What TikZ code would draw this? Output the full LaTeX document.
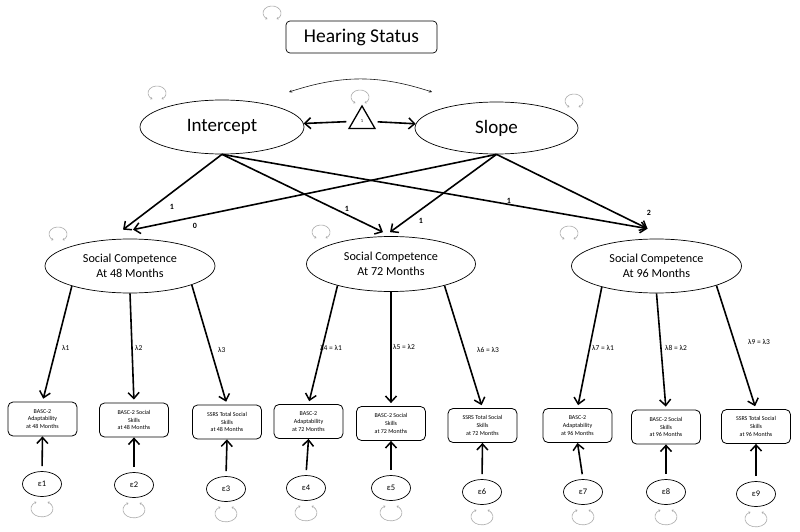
\documentclass[tikz,border=0pt]{standalone}
\usepackage{fontspec}
\setmainfont{Carlito}
\usetikzlibrary{arrows.meta,shapes.geometric,calc}
\newcommand\toploop[1]{\draw[vloop] ($(#1)+(4.5pt,-6.06pt)$) arc[start angle=-60,end angle=240,x radius=9pt,y radius=7pt];}
\newcommand\botloop[1]{\draw[vloop] ($(#1.south)+(-5.5pt,-5.1pt)$) arc[start angle=120,end angle=420,x radius=11pt,y radius=8pt];}
\begin{document}
\begin{tikzpicture}[x=1pt,y=-1pt,
 lat/.style={ellipse,draw,line width=0.7pt,inner sep=0pt,align=center},
 obs/.style={draw,rounded corners=5pt,line width=0.8pt,align=center,inner sep=0pt,minimum width=69pt,minimum height=34pt,font=\fontsize{6}{7.8}\selectfont},
 err/.style={ellipse,draw,line width=0.7pt,minimum width=39pt,minimum height=25pt,inner sep=0pt,font=\fontsize{8.5}{9}\selectfont},
 arr/.style={-{Straight Barb[length=6pt,width=11pt,line width=1.5pt]},line width=1.6pt},
 lam/.style={font=\fontsize{7.5}{8}\selectfont,anchor=west,inner sep=0pt},
 pl/.style={font=\bfseries\fontsize{8}{9}\selectfont,inner sep=0pt},
 vloop/.style={gray!65,line width=0.6pt,{Stealth[length=2pt,width=2.5pt]}-{Stealth[length=2pt,width=2.5pt]}},
]
\useasboundingbox[fill=white] (0,0) rectangle (800,532);

% top
\node[draw,rounded corners=4pt,line width=0.7pt,minimum width=151pt,minimum height=32pt,font=\fontsize{19.5}{21}\selectfont] (hs) at (361.5,37) {Hearing Status};
\node[lat,minimum width=164pt,minimum height=54pt,font=\fontsize{19}{20}\selectfont] (int) at (222,127) {Intercept};
\node[lat,minimum width=163pt,minimum height=52pt,font=\fontsize{19}{20}\selectfont] (slp) at (496.5,128) {Slope};
\node[regular polygon,regular polygon sides=3,draw,line width=1.3pt,minimum size=30pt,inner sep=0pt,font=\fontsize{4.5}{4.5}\selectfont] (tri) at (362,121) {1};

\coordinate (cl) at (289,92);
\coordinate (cr) at (432,92);
\draw[line width=0.6pt,gray!20!black,{Stealth[length=3pt,width=3pt]}-{Stealth[length=3pt,width=3pt]}] (cl) to[bend left=18] (cr);
\draw[arr,shorten <=6pt] (tri) -- (int);
\draw[arr,shorten <=6pt] (tri) -- (slp);

% latent social competence
\node[lat,minimum width=170pt,minimum height=54pt,font=\fontsize{12.2}{15}\selectfont] (sc48) at (130,266) {Social Competence\\At 48 Months};
\node[lat,minimum width=169pt,minimum height=55pt,font=\fontsize{12.2}{15}\selectfont] (sc72) at (391,264) {Social Competence\\At 72 Months};
\node[lat,minimum width=170pt,minimum height=54pt,font=\fontsize{12.2}{15}\selectfont] (sc96) at (656.5,266) {Social Competence\\At 96 Months};

% growth paths
\draw[arr] (int.south) -- ($(sc48.north)+(-7,-9)$);
\draw[arr] (slp.south) -- ($(sc48.north)+(3,-9)$);
\draw[arr] (int.south) -- ($(sc72.north)+(-8,-4)$);
\draw[arr] (slp.south) -- ($(sc72.north)+(-1,-4)$);
\draw[arr] (int.south) -- ($(sc96.north)+(-9,-10)$);
\draw[arr] (slp.south) -- ($(sc96.north)+(-9,-10)$);

\node[pl] (p1) at (172,207) {1};
\node[pl] (p2) at (195,226) {0};
\node[pl] (p3) at (347,209) {1};
\node[pl] (p4) at (421,221) {1};
\node[pl] (p5) at (509,201) {1};
\node[pl] (p6) at (649,213) {2};

% observed
\node[obs] (b1) at (42.5,419) {BASC-2\\Adaptability\\at 48 Months};
\node[obs] (b2) at (134,420) {BASC-2 Social\\Skills\\at 48 Months};
\node[obs] (b3) at (227,422) {SSRS Total Social\\Skills\\at 48 Months};
\node[obs] (b4) at (308.5,421.5) {BASC-2\\Adaptability\\at 72 Months};
\node[obs] (b5) at (391,423.5) {BASC-2 Social\\Skills\\at 72 Months};
\node[obs] (b6) at (482.5,425.5) {SSRS Total Social\\Skills\\at 72 Months};
\node[obs] (b7) at (577.5,425.5) {BASC-2\\Adaptability\\at 96 Months};
\node[obs] (b8) at (666,427) {BASC-2 Social\\Skills\\at 96 Months};
\node[obs] (b9) at (756,426.5) {SSRS Total Social\\Skills\\at 96 Months};

% loadings
\draw[arr,shorten >=3pt] (sc48.199) -- (b1.north);
\draw[arr,shorten >=3pt] (sc48.south) -- (b2.north);
\draw[arr,shorten >=3pt] (sc48.343) -- (b3.north);
\draw[arr,shorten >=3pt] (sc72.202) -- (b4.north);
\draw[arr,shorten >=3pt] (sc72.south) -- (b5.north);
\draw[arr,shorten >=3pt] (sc72.338) -- (b6.north);
\draw[arr,shorten >=3pt] (sc96.201) -- (b7.north);
\draw[arr,shorten >=3pt] (sc96.south) -- (b8.north);
\draw[arr,shorten >=3pt] (sc96.342) -- (b9.north);

\node[lam] (l1) at (62,348) {λ1};
\node[lam] (l2) at (135,348) {λ2};
\node[lam] (l3) at (218,350) {λ3};
\node[lam] (l4) at (320,348) {λ4 = λ1};
\node[lam] (l5) at (393,347) {λ5 = λ2};
\node[lam] (l6) at (477,350) {λ6 = λ3};
\node[lam] (l7) at (592,348) {λ7 = λ1};
\node[lam] (l8) at (665,348) {λ8 = λ2};
\node[lam] (l9) at (748,342) {λ9 = λ3};

% errors
\node[err] (e1) at (42,484) {ε1};
\node[err] (e2) at (134,485) {ε2};
\node[err] (e3) at (226,489) {ε3};
\node[err] (e4) at (306,488) {ε4};
\node[err] (e5) at (391,488) {ε5};
\node[err] (e6) at (482,492) {ε6};
\node[err] (e7) at (583,492) {ε7};
\node[err] (e8) at (666,492) {ε8};
\node[err] (e9) at (756,494) {ε9};
\foreach \i in {1,...,9}{
  \draw[arr,shorten <=5pt] (e\i.north) -- (b\i.south);
  \botloop{e\i}
}

% variance loops
\coordinate (vhs) at (272,13);
\coordinate (vint) at (157,93);
\coordinate (vtri) at (360,97);
\coordinate (vslp) at (574,101);
\coordinate (v48) at (58,234);
\coordinate (v72) at (321,232);
\coordinate (v96) at (569,233);
\foreach \c in {vhs,vint,vtri,vslp,v48,v72,v96}{\toploop{\c}}
\end{tikzpicture}
\end{document}
